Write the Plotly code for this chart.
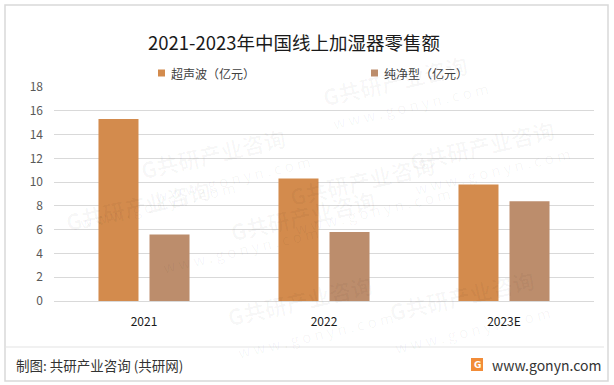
import plotly.graph_objects as go

categories = ["2021", "2022", "2023E"]
series_names = ["超声波（亿元）", "纯净型（亿元）"]
ultrasonic = [15.3, 10.3, 9.8]
pure = [5.6, 5.8, 8.4]
y_ticks = [0, 2, 4, 6, 8, 10, 12, 14, 16, 18]
title_text = "2021-2023年中国线上加湿器零售额"
source_text = "制图: 共研产业咨询 (共研网)"
site_text = "www.gonyn.com"

colors = ["#D38B4D", "#BC8D6C"]
FONT = "Noto Sans CJK SC"

W, H = 614, 385
L, R, T, B = 54, 594, 87, 301


def px(x):
    return (x - L) / (R - L)


def py(y):
    return (B - y) / (B - T)


fig = go.Figure()
for name, vals, c in zip(series_names, [ultrasonic, pure], colors):
    fig.add_trace(go.Bar(x=categories, y=vals, name=name, marker=dict(color=c, line=dict(width=0)),
                         showlegend=False))

shapes = []
annotations = []

# outer border
shapes.append(dict(type="rect", xref="paper", yref="paper", x0=px(5), x1=px(608), y0=py(5), y1=py(381),
                   line=dict(color="#D9D9D9", width=1.5), fillcolor="rgba(0,0,0,0)", layer="below"))
# footer separator
shapes.append(dict(type="line", xref="paper", yref="paper", x0=px(5), x1=px(604), y0=py(347), y1=py(347),
                   line=dict(color="#E3E3E3", width=1)))

# faint watermarks
wm = [(135, 118), (395, 45), (440, 180), (225, 250), (560, 110), (540, 330), (300, 335), (60, 205)]
for (cx, cy) in wm:
    annotations.append(dict(text="<b>G共研产业咨询</b>", xref="paper", yref="paper", x=px(cx), y=py(cy),
                            showarrow=False, textangle=-13, font=dict(family=FONT, size=22, color="rgba(0,0,0,0.03)")))
    annotations.append(dict(text="w w w . g o n y n . c o m", xref="paper", yref="paper", x=px(cx + 15), y=py(cy + 30),
                            showarrow=False, textangle=-13, font=dict(family=FONT, size=15, color="rgba(0,0,0,0.04)")))

# title
annotations.append(dict(text=title_text, xref="paper", yref="paper", x=px(294), y=py(42), showarrow=False,
                        font=dict(family=FONT, size=18.5, color="#1a1a1a"), xanchor="center", yanchor="middle"))

# legend (manual)
for (sx, tx), name, c in zip([(158, 169), (371, 382)], series_names, colors):
    shapes.append(dict(type="rect", xref="paper", yref="paper", x0=px(sx), x1=px(sx + 7), y0=py(69.5), y1=py(76.5),
                       fillcolor=c, line=dict(width=0)))
    annotations.append(dict(text=name, xref="paper", yref="paper", x=px(tx), y=py(73), showarrow=False,
                            xanchor="left", yanchor="middle", font=dict(family=FONT, size=12, color="#404040")))

# footer texts
annotations.append(dict(text=source_text, xref="paper", yref="paper", x=px(14), y=py(365), showarrow=False,
                        xanchor="left", yanchor="middle", font=dict(family=FONT, size=13.5, color="#333333")))
annotations.append(dict(text=site_text, xref="paper", yref="paper", x=px(603), y=py(365), showarrow=False,
                        xanchor="right", yanchor="middle", font=dict(family=FONT, size=14, color="#333333")))
shapes.append(dict(type="rect", xref="paper", yref="paper", x0=px(471), x1=px(483), y0=py(358), y1=py(371),
                   fillcolor="#F28C38", line=dict(width=0)))
annotations.append(dict(text="<b>G</b>", xref="paper", yref="paper", x=px(477), y=py(364.5), showarrow=False,
                        xanchor="center", yanchor="middle", font=dict(family="DejaVu Sans", size=9, color="white")))

fig.update_layout(
    width=W, height=H, autosize=False,
    margin=dict(l=L, r=W - R, t=T, b=H - B, pad=0),
    paper_bgcolor="white", plot_bgcolor="white",
    barmode="group", bargap=0.433, bargroupgap=0.216,
    showlegend=False,
    shapes=shapes, annotations=annotations,
    font=dict(family=FONT),
)
fig.update_yaxes(range=[0, 18], tickvals=y_ticks, showgrid=True, gridcolor="#D9D9D9", gridwidth=1,
                 zeroline=False, showline=False, ticks="", ticklabelstandoff=10,
                 tickfont=dict(family=FONT, size=12, color="#595959"))
fig.update_xaxes(showline=True, linecolor="#D9D9D9", linewidth=1, ticks="", ticklabelstandoff=10,
                 tickfont=dict(family=FONT, size=12, color="#1a1a1a"))

fig.write_html("out.html", config={"displayModeBar": False},
               post_script="document.body.style.margin='0';document.body.style.overflow='hidden';")
